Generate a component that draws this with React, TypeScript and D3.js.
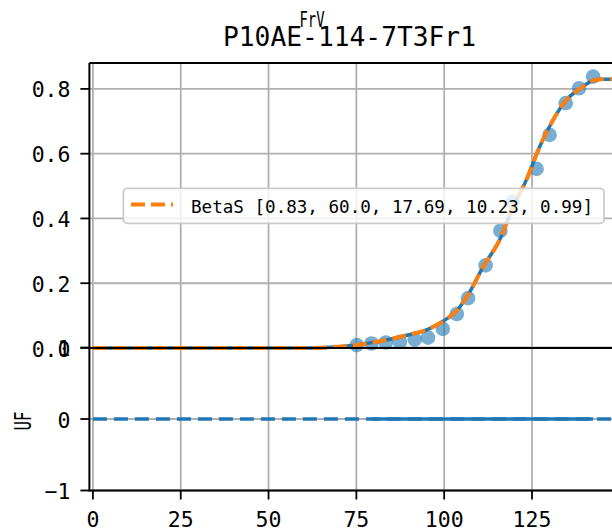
import React from "react";
import * as d3 from "d3";

// Observed data points (x, FrV)
const dataX = [75.1, 79.3, 83.4, 87.4, 91.6, 95.4, 99.6, 103.6, 106.8, 111.8, 116.0, 119.5, 126.3, 130.0, 134.6, 138.4, 142.4];
const dataY = [0.009, 0.014, 0.017, 0.019, 0.026, 0.032, 0.059, 0.105, 0.154, 0.255, 0.362, 0.452, 0.553, 0.658, 0.756, 0.802, 0.838];

// Fitted BetaS curve
const fitX = [0, 60, 65, 70, 75, 80, 85, 90, 95, 98, 101.6, 103.7, 106.8, 111.1, 115.8, 119.6, 123.4, 127.2, 131, 134.8, 138.6, 142.4, 145, 148.7];
const fitY = [0, 0, 0.001, 0.004, 0.009, 0.018, 0.028, 0.041, 0.056, 0.072, 0.097, 0.117, 0.164, 0.251, 0.334, 0.436, 0.519, 0.622, 0.704, 0.766, 0.8, 0.826, 0.83, 0.83];

// Residual panel (UF)
const zeroLineX = [0, 148.7];
const zeroLineY = [0, 0];
const residX = dataX.slice(1);
const residY = residX.map(() => 0);

const xTicks = [0, 25, 50, 75, 100, 125];
const yTopTicks = [0.0, 0.2, 0.4, 0.6, 0.8];
const yBotTicks = [-1, 0, 1];
const legendLabel = "BetaS [0.83, 60.0, 17.69, 10.23, 0.99]";
const suptitle = "FrV";
const title = "P10AE-114-7T3Fr1";
const yLabelBottom = "UF";

const FONT = "'DejaVu Sans Mono', monospace";
const BLUE = "#1f77b4";
const ORANGE = "#ff7f0e";
const GRID = "#b0b0b0";

export default function App() {
  const x = d3.scaleLinear().domain([0, 125]).range([92.9, 532]);
  const xMin = -1;
  const xMax = 149;
  const yTop = d3.scaleLinear().domain([0, 0.88]).range([348, 63]);
  const yBot = d3.scaleLinear().domain([-1, 1]).range([490.5, 347.5]);

  const left = x(xMin);
  const right = x(xMax);

  const fitPts: [number, number][] = fitX.map((v, i) => [v, fitY[i]]);
  const fitLine = d3
    .line<[number, number]>()
    .x((d) => x(d[0]))
    .y((d) => yTop(d[1]))
    .curve(d3.curveMonotoneX);
  const fitPath = fitLine(fitPts) || "";

  const botLine = d3
    .line<[number, number]>()
    .x((d) => x(d[0]))
    .y((d) => yBot(d[1]));
  const zeroPath = botLine(zeroLineX.map((v, i) => [v, zeroLineY[i]])) || "";
  const residPath = botLine(residX.map((v, i) => [v, residY[i]])) || "";

  return (
    <svg width={612} height={532} style={{ position: "absolute", left: 0, top: 0 }}>
      <rect x={0} y={0} width={612} height={532} fill="white" />
      <text x={312} y={27} fontFamily={FONT} fontSize={21} textAnchor="middle" textLength={25} lengthAdjust="spacingAndGlyphs">
        {suptitle}
      </text>
      <text x={349.5} y={46} fontFamily={FONT} fontSize={26} textAnchor="middle" textLength={253} lengthAdjust="spacingAndGlyphs">
        {title}
      </text>

      {/* grids top */}
      {xTicks.map((t) => (
        <line key={"gvt" + t} x1={x(t)} x2={x(t)} y1={63} y2={348} stroke={GRID} strokeWidth={1.8} />
      ))}
      {yTopTicks.map((t) => (
        <line key={"ght" + t} x1={left} x2={right} y1={yTop(t)} y2={yTop(t)} stroke={GRID} strokeWidth={1.8} />
      ))}
      {/* grids bottom */}
      {xTicks.map((t) => (
        <line key={"gvb" + t} x1={x(t)} x2={x(t)} y1={348} y2={490.5} stroke={GRID} strokeWidth={1.8} />
      ))}
      {yBotTicks.map((t) => (
        <line key={"ghb" + t} x1={left} x2={right} y1={yBot(t)} y2={yBot(t)} stroke={GRID} strokeWidth={1.8} />
      ))}

      {/* scatter */}
      {dataX.map((v, i) => (
        <circle key={"p" + i} cx={x(v)} cy={yTop(dataY[i])} r={7.3} fill={BLUE} fillOpacity={0.6} />
      ))}
      <path d={fitPath} fill="none" stroke={BLUE} strokeWidth={3.5} />
      <path d={fitPath} fill="none" stroke={ORANGE} strokeWidth={4} strokeDasharray="14 6" />

      {/* bottom lines */}
      <path d={zeroPath} fill="none" stroke={BLUE} strokeWidth={3.6} strokeDasharray="14 7" />
      <path d={residPath} fill="none" stroke={BLUE} strokeWidth={3.6} />

      {/* spines */}
      <line x1={left} x2={right} y1={63} y2={63} stroke="black" strokeWidth={2} />
      <line x1={left} x2={right} y1={348} y2={348} stroke="black" strokeWidth={2} />
      <line x1={left} x2={right} y1={490.5} y2={490.5} stroke="black" strokeWidth={2} />
      <line x1={left} x2={left} y1={63} y2={491.5} stroke="black" strokeWidth={2} />

      {/* y ticks top */}
      {yTopTicks.map((t) => (
        <g key={"yt" + t}>
          <line x1={left - 9} x2={left} y1={yTop(t)} y2={yTop(t)} stroke="black" strokeWidth={1.8} />
          <text x={70.5} y={yTop(t) + 1} fontFamily={FONT} fontSize={21.5} textAnchor="end" dominantBaseline="central">
            {t.toFixed(1)}
          </text>
        </g>
      ))}
      {/* y ticks bottom */}
      {yBotTicks.map((t) => (
        <g key={"yb" + t}>
          <line x1={left - 9} x2={left} y1={yBot(t)} y2={yBot(t)} stroke="black" strokeWidth={1.8} />
          <text x={70.5} y={yBot(t) + 1} fontFamily={FONT} fontSize={21.5} textAnchor="end" dominantBaseline="central">
            {t < 0 ? "\u2212" + Math.abs(t) : String(t)}
          </text>
        </g>
      ))}
      {/* x ticks */}
      {xTicks.map((t) => (
        <g key={"xt" + t}>
          <line x1={x(t)} x2={x(t)} y1={490.5} y2={499.5} stroke="black" strokeWidth={1.8} />
          <text x={x(t)} y={526.5} fontFamily={FONT} fontSize={21.5} textAnchor="middle">
            {t}
          </text>
        </g>
      ))}

      <text
        transform={`translate(31, 421) rotate(-90)`}
        fontFamily={FONT}
        fontSize={23}
        textAnchor="middle"
        textLength={19}
        lengthAdjust="spacingAndGlyphs"
      >
        {yLabelBottom}
      </text>

      {/* legend */}
      <rect x={123.3} y={188.3} width={480.7} height={35} rx={4} fill="white" fillOpacity={0.8} stroke="#cccccc" strokeWidth={1.8} />
      <line x1={131} x2={173} y1={204.5} y2={204.5} stroke={ORANGE} strokeWidth={4} strokeDasharray="14 6" />
      <text x={191} y={213} fontFamily={FONT} fontSize={18.5} textLength={402} lengthAdjust="spacingAndGlyphs">
        {legendLabel}
      </text>
    </svg>
  );
}
